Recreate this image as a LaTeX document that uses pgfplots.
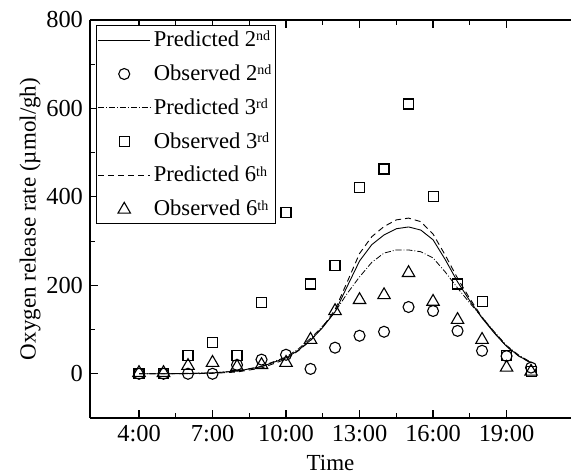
\documentclass[border=0pt]{standalone}
\usepackage{fontspec}
\setmainfont{Liberation Serif}
\usepackage{pgfplots}
\pgfplotsset{compat=1.18}
\usepackage{pgfplotstable}

\pgfplotsset{
    lineleg/.style={legend image code/.code={\draw[##1] (0cm,0cm) -- (0.92cm,0cm);}},
    markleg/.style={legend image code/.code={\draw[mark repeat=2,mark phase=2,##1] plot coordinates {(0cm,0cm)(0.46cm,0cm)(0.92cm,0cm)};}},
}

% observed values (hour of day, rate)
\pgfplotstableread{
t   o2   o3   o6
4   0    0    2
5   0    0    2
6   0    41   18
7   0    70   25
8   20   41   16
9   32   162  20
10  43   364  25
11  11   203  77
12  59   244  142
13  86   422  167
14  95   463  178
15  151  610  228
16  142  400  163
17  97   203  122
18  52   163  77
19  40   41   14
20  14   5    5
}\observed

% predicted curves
\pgfplotstableread{
t     p2   p3   p6
4     0    0    0
5     0    0    0
6     0.5  1    0
7     2    2    1
8     6    6    4
9     16   17   13
10    36   38   33
10.5  53   56   52
11    76   80   75
11.5  105  108  106
12    140  140  145
12.5  198  182  208
13    255  219  272
13.5  292  252  310
14    314  273  333
14.5  328  280  348
15    332  280  352
15.5  325  276  344
16    303  262  316
16.5  258  230  268
17    208  194  216
17.5  165  160  170
18    126  128  128
18.5  92   95   93
19    62   64   62
19.5  40   42   40
20    25   26   24
}\predicted

\newcommand{\sups}[1]{\raisebox{0.55ex}{\fontsize{7}{8}\selectfont #1}}

\begin{document}
\begin{tikzpicture}
\begin{axis}[
    scale only axis,
    width=240.5pt, height=199pt,
    xmin=2, xmax=21.63,
    ymin=-100, ymax=800,
    axis x line=box,
    axis y line=left,
    axis line style={line width=0.65pt, -},
    tick align=inside,
    major tick length=4pt,
    minor tick length=2.5pt,
    tick style={line width=0.6pt, black},
    xtick={4,7,10,13,16,19},
    xticklabels={4:00,7:00,10:00,13:00,16:00,19:00},
    minor x tick num=1,
    ytick={0,200,400,600,800},
    minor y tick num=1,
    /pgf/number format/assume math mode=true,
    tick label style={font=\fontsize{12.2}{14}\selectfont},
    xlabel={Time},
    ylabel={Oxygen release rate (µmol/gh)},
    label style={font=\fontsize{11.5}{13}\selectfont},
    ylabel style={yshift=-4pt},
    legend cell align=left,
    legend style={at={(0.0125,0.987)}, anchor=north west,
        font=\fontsize{11.3}{13}\selectfont, draw=black, line width=0.6pt,
        inner sep=0.5pt, row sep=3.6pt, nodes={inner xsep=1.5pt}},
    every axis plot/.append style={black, line width=0.45pt},
]
\addplot[solid, lineleg] table[x=t, y=p2] {\predicted};
\addlegendentry{Predicted 2\sups{nd}}
\addplot[only marks, mark=o, mark size=2.75pt, mark options={line width=0.55pt}, markleg]
    table[x=t, y=o2] {\observed};
\addlegendentry{Observed 2\sups{nd}}
\addplot[densely dash dot, line width=0.4pt, lineleg] table[x=t, y=p3] {\predicted};
\addlegendentry{Predicted 3\sups{rd}}
\addplot[only marks, mark=square, mark size=2.5pt, mark options={line width=0.55pt}, markleg]
    table[x=t, y=o3] {\observed};
\addlegendentry{Observed 3\sups{rd}}
\addplot[densely dashed, lineleg] table[x=t, y=p6] {\predicted};
\addlegendentry{Predicted 6\sups{th}}
\addplot[only marks, mark=triangle, mark size=3.6pt, mark options={line width=0.55pt}, markleg]
    table[x=t, y=o6] {\observed};
\addlegendentry{Observed 6\sups{th}}
\end{axis}
\pgfresetboundingbox
\path ([xshift=-45pt,yshift=10pt]current axis.north west) rectangle ([yshift=-27.5pt]current axis.south east);
\end{tikzpicture}
\end{document}
